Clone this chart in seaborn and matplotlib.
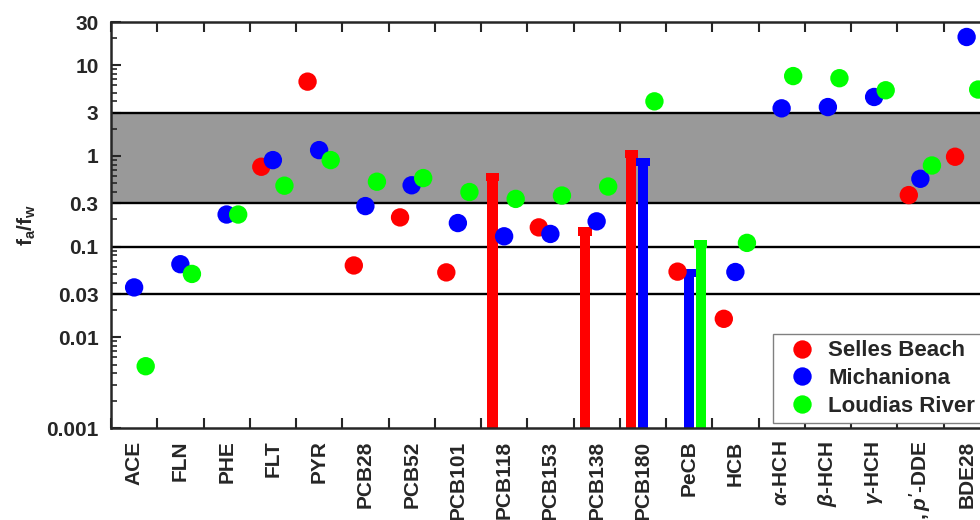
import numpy as np
import pandas as pd
import matplotlib
matplotlib.use("Agg")
import matplotlib.pyplot as plt
import seaborn as sns

# compounds along the x axis
compounds = ["ACE", "FLN", "PHE", "FLT", "PYR", "PCB28", "PCB52", "PCB101",
             "PCB118", "PCB153", "PCB138", "PCB180", "PeCB", "HCB",
             r"$\alpha$-HCH", r"$\beta$-HCH", r"$\gamma$-HCH",
             r"$p,p'$-DDE", "BDE28"]

sites = ["Selles Beach", "Michaniona", "Loudias River"]

# fa/fw ratios shown as dots (None = no dot)
selles = [None, None, None, 0.76, 6.6, 0.062, 0.21, 0.052, None, 0.163,
          None, None, 0.053, 0.016, None, None, None, 0.37, 0.98]
michaniona = [0.0355, 0.064, 0.226, 0.90, 1.16, 0.28, 0.475, 0.182, 0.13, 0.138,
              0.19, None, None, 0.0525, 3.35, 3.46, 4.47, 0.56, 20.5]
loudias = [0.0048, 0.050, 0.226, 0.47, 0.90, 0.52, 0.57, 0.40, 0.336, 0.366,
           0.46, 4.0, None, 0.11, 7.6, 7.2, 5.3, 0.785, 5.4]

# ratios shown as bars from the bottom (None = no bar)
selles_bar = [None] * 8 + [0.65, None, 0.163, 1.16] + [None] * 7
michaniona_bar = [None] * 11 + [0.95, 0.057] + [None] * 6
loudias_bar = [None] * 12 + [0.119] + [None] * 6

colors = {"Selles Beach": "#ff0000", "Michaniona": "#0000ff", "Loudias River": "#00ff00"}
offsets = {"Selles Beach": -0.25, "Michaniona": 0.0, "Loudias River": 0.25}

rows = []
for site, vals in zip(sites, [selles, michaniona, loudias]):
    for i, v in enumerate(vals):
        if v is not None:
            rows.append({"site": site, "x": i + offsets[site], "ratio": v})
dots = pd.DataFrame(rows)

rows = []
for site, vals in zip(sites, [selles_bar, michaniona_bar, loudias_bar]):
    for i, v in enumerate(vals):
        if v is not None:
            rows.append({"site": site, "x": i + offsets[site], "ratio": v})
bars = pd.DataFrame(rows)

sns.set_style("ticks")
plt.rcParams["font.family"] = ["Liberation Sans", "DejaVu Sans"]
plt.rcParams["font.weight"] = "bold"
plt.rcParams["mathtext.fontset"] = "custom"
plt.rcParams["mathtext.rm"] = "Liberation Sans:bold"
plt.rcParams["mathtext.it"] = "Liberation Sans:bold:italic"
plt.rcParams["mathtext.bf"] = "Liberation Sans:bold"

fig = plt.figure(figsize=(9.8, 5.2), dpi=100)
ax = fig.add_axes([111 / 980, 92 / 520, 925 / 980, 406 / 520])

ax.set_yscale("log")
ax.set_ylim(0.001, 30)
ax.set_xlim(-0.5, len(compounds) + 0.5)

# shaded band and reference lines
ax.axhspan(0.3, 3, color="#999999", zorder=0, lw=0)
for yv in [0.03, 0.1, 0.3, 3]:
    ax.axhline(yv, color="black", lw=1.7, zorder=1)

# bars with a cap on top
cap = 1.235
for _, r in bars.iterrows():
    c = colors[r["site"]]
    ax.bar(r["x"], r["ratio"] - 1e-4, bottom=1e-4, width=0.22, color=c,
           linewidth=0, zorder=2)
    ax.bar(r["x"], r["ratio"] - r["ratio"] / cap, bottom=r["ratio"] / cap,
           width=0.29, color=c, linewidth=0, zorder=2)

sns.scatterplot(data=dots, x="x", y="ratio", hue="site", hue_order=sites,
                palette=colors, s=175, linewidth=0, ax=ax, zorder=3)

# ticks
ax.set_yticks([0.001, 0.01, 0.03, 0.1, 0.3, 1, 3, 10, 30])
ax.set_yticklabels(["0.001", "0.01", "0.03", "0.1", "0.3", "1", "3", "10", "30"])
ax.yaxis.set_minor_locator(matplotlib.ticker.LogLocator(base=10, subs=np.arange(2, 10)))
ax.yaxis.set_minor_formatter(matplotlib.ticker.NullFormatter())
ax.set_xticks(np.arange(len(compounds) + 1) - 0.5)
ax.set_xticklabels([])
ax.set_xticks(np.arange(len(compounds)), minor=True)
ax.set_xticklabels(compounds, minor=True, rotation=90)
ax.tick_params(axis="x", which="major", direction="in", length=7, width=1.5,
               top=True, bottom=True)
ax.tick_params(axis="x", which="minor", length=0, pad=9, labelsize=15)
ax.tick_params(axis="y", which="major", direction="in", length=7, width=1.5,
               labelsize=15, pad=9)
ax.tick_params(axis="y", which="minor", direction="in", length=4, width=1.2)
for s in ax.spines.values():
    s.set_linewidth(1.8)

ax.set_xlabel("")
ax.set_ylabel(r"$\mathbf{f_a/f_w}$", fontsize=15, labelpad=6)

leg = ax.legend(loc="upper left", bbox_to_anchor=(0.7154, 0.232), borderaxespad=0,
                fontsize=16, frameon=True, fancybox=False, edgecolor="#808080",
                handletextpad=0.2, labelspacing=0.3, borderpad=0.3,
                handlelength=2.0, markerscale=1.0)
leg.get_frame().set_linewidth(1.0)
leg.get_frame().set_alpha(1)

plt.savefig("out.png", dpi=100)
